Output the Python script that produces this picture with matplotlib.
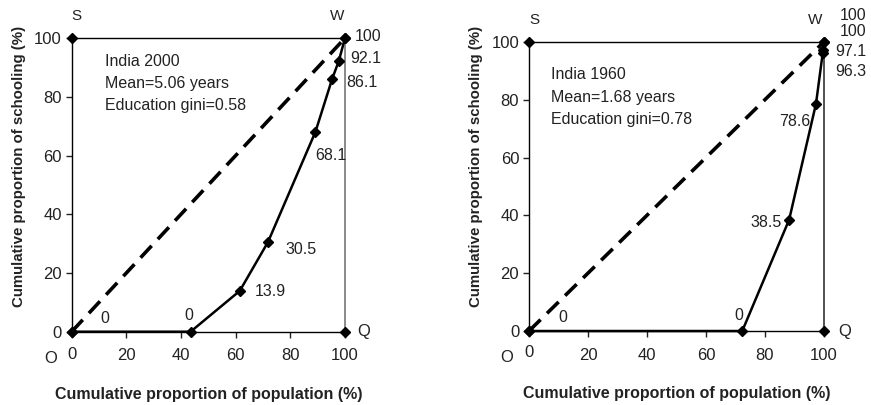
import matplotlib.pyplot as plt

plt.rcParams['font.family'] = ['Liberation Sans', 'DejaVu Sans']

# India 2000
pop_2000 = [0, 43.5, 61.5, 71.8, 89.2, 95.3, 97.7, 100]
sch_2000 = [0, 0, 13.9, 30.5, 68.1, 86.1, 92.1, 100]
lab_2000 = ["0", "0", "13.9", "30.5", "68.1", "86.1", "92.1", "100"]
lab_pos_2000 = [(12, 4.6), (43, 5.5), (72.5, 13.6), (84, 28), (95, 60), (106, 85), (107.5, 93), (108.5, 100.5)]
text_2000 = ["India 2000", "Mean=5.06 years", "Education gini=0.58"]
text_pos_2000 = (12.2, 92, 7.5)

# India 1960
pop_1960 = [0, 72.3, 88.2, 97.3, 99.6, 99.8, 100]
sch_1960 = [0, 0, 38.5, 78.6, 96.3, 97.1, 100]
lab_1960 = ["0", "0", "38.5", "78.6", "96.3", "97.1", "100", "100"]
lab_pos_1960 = [(11.6, 4.5), (71, 5.5), (80.5, 37.5), (90, 72.4), (109, 89.7), (109, 96.5), (110, 103.6), (110, 109)]
text_1960 = ["India 1960", "Mean=1.68 years", "Education gini=0.78"]
text_pos_1960 = (7.5, 88.6, 7.8)

ticks = [0, 20, 40, 60, 80, 100]
txt = "#222222"

fig = plt.figure(figsize=(8.71, 4.05), dpi=100)
ax1 = fig.add_axes([0.0823, 0.181, 0.3138, 0.725])
ax2 = fig.add_axes([0.6073, 0.1827, 0.3387, 0.714])


def draw_panel(ax, pop, sch, labels, lab_pos, texts, text_pos, right_color, ylab_y):
    ax.set_xlim(0, 100)
    ax.set_ylim(0, 100)
    for s in ["top", "right"]:
        ax.spines[s].set_visible(False)
    for s in ["left", "bottom"]:
        ax.spines[s].set_linewidth(1.0)
    ax.set_xticks(ticks)
    ax.set_yticks(ticks)
    ax.set_xticklabels([""] + [str(t) for t in ticks[1:]])
    ax.tick_params(direction="out", length=4, width=1, labelsize=12, colors=txt)
    ax.tick_params(axis="x", pad=8)
    ax.tick_params(axis="y", pad=3)
    # box
    ax.plot([0, 100], [100, 100], color="black", lw=1, clip_on=False)
    ax.plot([100, 100], [100, 0], color=right_color, lw=1.2, clip_on=False)
    # equality line
    ax.plot([0, 100], [0, 100], color="black", lw=2.6, dashes=(4.5, 2.5), clip_on=False)
    # lorenz curve
    ax.plot(pop, sch, color="black", lw=1.8, marker="D", markersize=5.5, clip_on=False, zorder=5)
    # corner markers
    ax.plot([0, 100, 100, 0], [100, 100, 0, 0], ls="none", marker="D", markersize=5.5,
            color="black", clip_on=False, zorder=6)
    for lab, (x, y) in zip(labels, lab_pos):
        ax.text(x, y, lab, fontsize=11.5, color=txt, ha="center", va="center")
    tx, ty, dy = text_pos
    for i, t in enumerate(texts):
        ax.text(tx, ty - i * dy, t, fontsize=11.5, color=txt, ha="left", va="center")
    ax.text(1.8, 107.5, "S", fontsize=11, ha="center", va="center", color=txt)
    ax.text(97, 107.5, "W", fontsize=11, ha="center", va="center", color=txt)
    ax.text(107, 0, "Q", fontsize=12, ha="center", va="center", color=txt)
    ax.text(-7.5, -9, "O", fontsize=12, ha="center", va="center", color=txt)
    ax.text(0, -7.6, "0", fontsize=12, ha="center", va="center", color=txt)
    ax.set_ylabel("Cumulative proportion of schooling (%)", fontsize=10.8, fontweight="bold",
                  color=txt, labelpad=6)
    ax.yaxis.label.set_y(ylab_y)
    ax.set_xlabel("Cumulative proportion of population (%)", fontsize=11.5, fontweight="bold",
                  color=txt, labelpad=17)


draw_panel(ax1, pop_2000, sch_2000, lab_2000, lab_pos_2000, text_2000, text_pos_2000, "#777777", 0.564)
draw_panel(ax2, pop_1960, sch_1960, lab_1960, lab_pos_1960, text_1960, text_pos_1960, "#333333", 0.57)

fig.savefig("out.png", dpi=100)
